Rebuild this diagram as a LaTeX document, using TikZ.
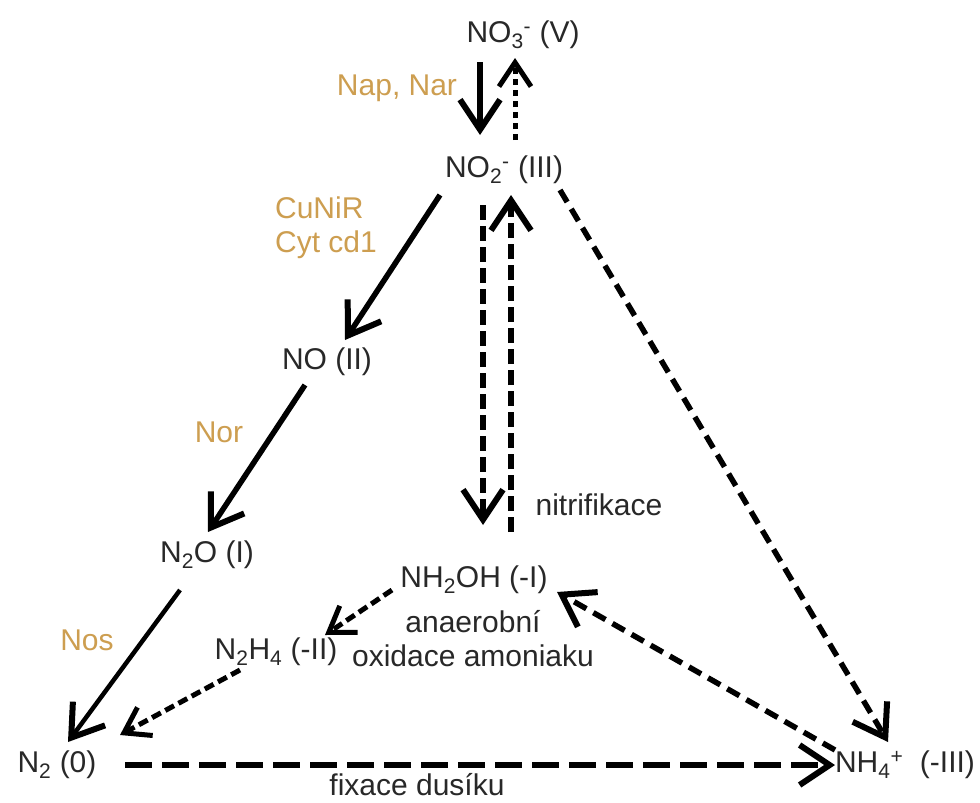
\documentclass[tikz,border=0pt]{standalone}
\usepackage{fontspec}
\setmainfont{Liberation Sans}
\usetikzlibrary{arrows.meta,calc}
\definecolor{enz}{RGB}{205,158,80}
\definecolor{txt}{RGB}{40,40,40}
\begin{document}
\begin{tikzpicture}[x=1pt,y=-1pt,
  every node/.style={font=\fontsize{30}{34}\selectfont,text=txt,inner sep=1pt},
  enzlabel/.style={text=enz},
  bighead/.style={-{Straight Barb[length=30pt,width=40pt,line width=6pt]}},
  smallhead/.style={-{Straight Barb[length=24pt,width=32pt,line width=5pt]}},
  solidarr/.style={line width=5.5pt,bighead},
  longdash/.style={line width=6pt,dash pattern=on 15pt off 6pt,bighead},
  fixdash/.style={line width=6.5pt,dash pattern=on 27pt off 10pt,bighead},
  diagdash/.style={line width=5.5pt,dash pattern=on 14pt off 8pt,bighead},
  thindash/.style={line width=5pt,dash pattern=on 10pt off 5pt,smallhead},
  dotarr/.style={line width=5pt,dash pattern=on 6pt off 5pt,smallhead}]
\useasboundingbox (0,0) rectangle (980,803);
\fill[white] (0,0) rectangle (980,803);
% species
\node (no3) at (523,35) {NO\textsubscript{3}\textsuperscript{-} (V)};
\node (no2) at (504,170) {NO\textsubscript{2}\textsuperscript{-} (III)};
\node (no) at (327,362) {NO (II)};
\node (n2o) at (207,555) {N\textsubscript{2}O (I)};
\node (n2) at (57,765) {N\textsubscript{2} (0)};
\node (n2h4) at (276,652) {N\textsubscript{2}H\textsubscript{4} (-II)};
\node (nh2oh) at (474,580) {NH\textsubscript{2}OH (-I)};
\node (nh4) at (905,765) {NH\textsubscript{4}\textsuperscript{+}\ \ (-III)};
% labels
\node[enzlabel] (napnar) at (397,88) {Nap, Nar};
\node[enzlabel,align=left] (cunir) at (326,228) {CuNiR\\Cyt cd1};
\node[enzlabel] (nor) at (219,432) {Nor};
\node[enzlabel] (nos) at (87,640) {Nos};
\node (nitrif) at (599,505) {nitrifikace};
\node[align=center] (anaer) at (473,639) {anaerobní\\oxidace amoniaku};
\node (fixace) at (417,785) {fixace dusíku};
% arrows
\draw[solidarr] ($(no3)+(-43,27)$) -- ($(no2)+(-24,-35)$);
\draw[dotarr] ($(no2)+(11,-30)$) -- ($(no3)+(-8,23)$);
\draw[solidarr] ($(no2)+(-64,25)$) -- ($(no)+(18,-22)$);
\draw[longdash] ($(no2)+(-21,35)$) -- ($(nh2oh)+(9,-55)$);
\draw[longdash] ($(nh2oh)+(37,-48)$) -- ($(no2)+(7,25)$);
\draw[solidarr] ($(no)+(-22,23)$) -- ($(n2o)+(1,-23)$);
\draw[solidarr,line width=4.5pt] ($(n2o)+(-27,35)$) -- ($(n2)+(11,-23)$);
\draw[thindash] ($(nh2oh)+(-82,10)$) -- ($(n2h4)+(49,-17)$);
\draw[thindash] ($(n2h4)+(-36,18)$) -- ($(n2)+(63,-30)$);
\draw[fixdash] ($(n2)+(68,0)$) -- ($(nh4)+(-70,0)$);
\draw[diagdash] ($(nh4)+(-70,-15)$) -- ($(nh2oh)+(83,12)$);
\draw[diagdash] ($(no2)+(56,20)$) -- ($(nh4)+(-17,-23)$);
\end{tikzpicture}
\end{document}
